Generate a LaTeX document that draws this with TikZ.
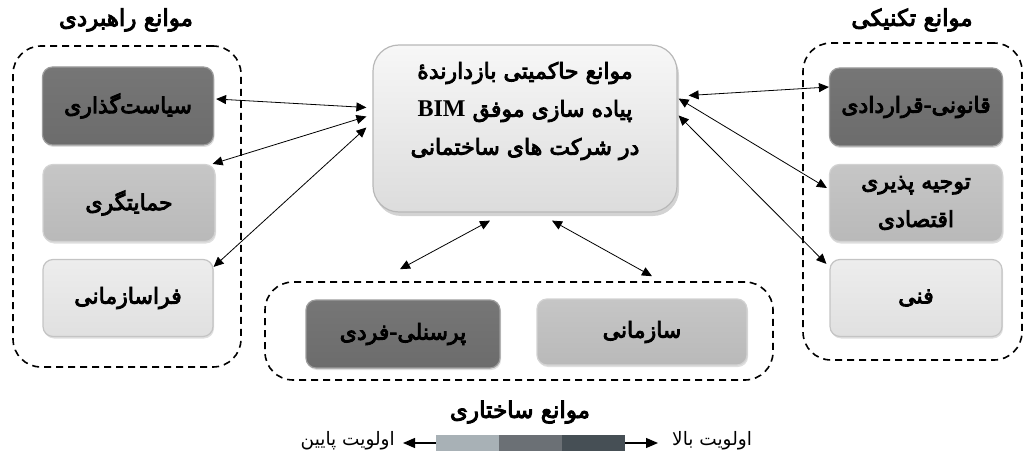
\documentclass[tikz,border=0pt]{standalone}
\usepackage{fontspec}
\usetikzlibrary{arrows.meta,shadows,calc}
\newfontfamily\fa[Script=Arabic]{DejaVu Sans}
\newfontfamily\fab[Script=Arabic,FakeBold=4]{DejaVu Sans}
\newfontfamily\latf{Liberation Serif}
\TeXXeTstate=1
\definecolor{dkfill}{HTML}{767676}
\definecolor{dkfillb}{HTML}{6C6C6C}
\definecolor{dkdraw}{HTML}{9C9C9C}
\definecolor{mdfill}{HTML}{C6C6C6}
\definecolor{mdfillb}{HTML}{B9B9B9}
\definecolor{mddraw}{HTML}{D2D2D2}
\definecolor{ltfill}{HTML}{EDEDED}
\definecolor{ltfillb}{HTML}{E0E0E0}
\definecolor{ltdraw}{HTML}{C4C4C4}
\definecolor{cfill}{HTML}{F7F7F7}
\definecolor{cfillb}{HTML}{DCDCDC}
\definecolor{cdraw}{HTML}{B8B8B8}
\definecolor{lgA}{HTML}{A8B1B6}
\definecolor{lgB}{HTML}{6B7075}
\definecolor{lgC}{HTML}{464F55}
\begin{document}
\begin{tikzpicture}[x=1pt,y=-1pt,
  box/.style={rounded corners=10pt, line width=1.2pt, align=center, inner sep=0pt,
    font=\fab\fontsize{22}{38}\selectfont,
    drop shadow={shadow xshift=1pt, shadow yshift=-2pt, opacity=0.25, fill=gray}},
  dkbox/.style={box, draw=dkdraw, top color=dkfill, bottom color=dkfillb},
  mdbox/.style={box, draw=mddraw, top color=mdfill, bottom color=mdfillb},
  ltbox/.style={box, draw=ltdraw, top color=ltfill, bottom color=ltfillb},
  cbox/.style={rounded corners=26pt, line width=1.2pt, inner sep=0pt,
    draw=cdraw, top color=cfill, bottom color=cfillb,
    drop shadow={shadow xshift=2pt, shadow yshift=-4pt, opacity=0.35, fill=gray}},
  ctext/.style={align=center, inner sep=0pt, font=\fab\fontsize{22}{38}\selectfont},
  grp/.style={draw, line width=1.6pt, dash pattern=on 7pt off 5pt, rounded corners=28pt, inner sep=0pt},
  ttl/.style={font=\fab\fontsize{23}{26}\selectfont, inner sep=0pt},
  lbl/.style={font=\fa\fontsize{18.5}{20}\selectfont, inner sep=0pt},
  dbl/.style={{Triangle[length=10pt,width=9pt]}-{Triangle[length=10pt,width=9pt]}, line width=0.8pt},
  lgseg/.style={minimum width=63pt, minimum height=16pt, inner sep=0pt},
  lgarr/.style={-{Triangle[length=12pt,width=10pt]}, line width=1.2pt}
]
\useasboundingbox (0,0) rectangle (1024,457);

% group frames
\node[grp, minimum width=228pt, minimum height=321pt] (gl) at (127,206.5) {};
\node[grp, minimum width=219pt, minimum height=317pt] (gr) at (912.5,201.5) {};
\node[grp, minimum width=508pt, minimum height=98pt] (gb) at (519,331) {};

% titles
\node[ttl] (tl) at (126,20) {\beginR موانع راهبردی\endR};
\node[ttl] (tr) at (912,20) {\beginR موانع تکنیکی\endR};
\node[ttl] (tb) at (520,412) {\beginR موانع ساختاری\endR};

% left boxes
\node[dkbox, minimum width=171pt, minimum height=78pt] (sp) at (128,106) {\beginR سیاست‌گذاری\endR};
\node[mdbox, minimum width=172pt, minimum height=77pt] (hm) at (129,203) {\beginR حمایتگری\endR};
\node[ltbox, minimum width=170pt, minimum height=77pt] (fs) at (128,298) {\beginR فراسازمانی\endR};

% right boxes
\node[dkbox, minimum width=173pt, minimum height=78pt] (qq) at (916,107) {\beginR قانونی-قراردادی\endR};
\node[mdbox, minimum width=173pt, minimum height=77pt] (tj) at (916,203) {\beginR توجیه پذیری\endR\\\beginR اقتصادی\endR};
\node[ltbox, minimum width=172pt, minimum height=77pt] (fn) at (916,298) {\beginR فنی\endR};

% bottom boxes
\node[dkbox, minimum width=194pt, minimum height=68pt] (pf) at (403,334) {\beginR پرسنلی-فردی\endR};
\node[mdbox, minimum width=210pt, minimum height=66pt] (sz) at (642,332) {\beginR سازمانی\endR};

% center box
\node[cbox, minimum width=304pt, minimum height=167pt] (c) at (525,128.5) {};
\node[ctext] (ct) at (525,111)
  {\beginR موانع حاکمیتی بازدارندهٔ\endR\\
   \beginR پیاده سازی موفق \beginL{\latf\bfseries\fontsize{24}{38}\selectfont BIM}\endL\endR\\
   \beginR در شرکت های ساختمانی\endR};

% connectors
\draw[dbl] ([xshift=2pt,yshift=7pt]sp.east) -- ([xshift=-6pt,yshift=21pt]c.west);
\draw[dbl] ([xshift=-3pt]hm.north east) -- ([xshift=-6pt,yshift=12pt]c.west);
\draw[dbl] ([yshift=-8pt]fs.north east) -- ([xshift=-6pt,yshift=1pt]c.west);
\draw[dbl] ([xshift=11pt,yshift=33pt]c.east) -- ([yshift=20pt]qq.west);
\draw[dbl] ([xshift=1pt,yshift=30pt]c.east) -- ([xshift=-2pt,yshift=15pt]tj.west);
\draw[dbl] ([xshift=1pt,yshift=13pt]c.east) -- ([xshift=-3pt,yshift=-5pt]fn.north west);
\draw[dbl] ([xshift=-35pt,yshift=-8pt]c.south) -- ([xshift=-119pt,yshift=12pt]gb.north);
\draw[dbl] ([xshift=27pt,yshift=-8pt]c.south) -- ([xshift=133pt,yshift=5pt]gb.north);

% legend
\node[lgseg, fill=lgA] (l1) at (467.5,443) {};
\node[lgseg, fill=lgB] (l2) at (530.5,443) {};
\node[lgseg, fill=lgC] (l3) at (593.5,443) {};
\node[lbl, anchor=east] (low) at (395,441) {\beginR اولویت پایین\endR};
\node[lbl, anchor=west] (high) at (672,441) {\beginR اولویت بالا\endR};
\draw[lgarr] (l1.west) -- ([xshift=8pt,yshift=-2pt]low.east);
\draw[lgarr] (l3.east) -- ([xshift=-14pt,yshift=-2pt]high.west);
\end{tikzpicture}
\end{document}
